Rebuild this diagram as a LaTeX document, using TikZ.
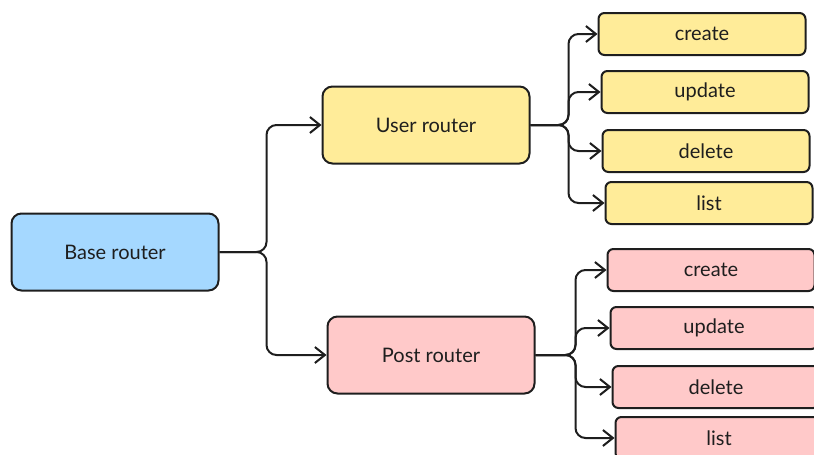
\documentclass[tikz,border=0pt]{standalone}
\usepackage{fontspec}
\setmainfont{Lato}
\usetikzlibrary{arrows.meta}

\definecolor{baseblue}{HTML}{A5D8FF}
\definecolor{useryellow}{HTML}{FFEC99}
\definecolor{postpink}{HTML}{FFC9C9}
\definecolor{inkline}{HTML}{1E1E1E}

\tikzset{
  box/.style={draw=inkline, line width=2pt, text=inkline,
    font=\fontsize{20}{24}\selectfont},
  bigbox/.style={box, rounded corners=10pt, minimum width=207pt, minimum height=77pt},
  smallbox/.style={box, rounded corners=6pt, minimum width=207pt, minimum height=42pt},
  link/.style={draw=inkline, line width=2pt, rounded corners=10pt,
    -{Straight Barb[length=10pt,width=16pt]}},
}

\begin{document}
\begin{tikzpicture}[x=1pt,y=-1pt]
\useasboundingbox (0,0) rectangle (814,455);

% routers
\node[bigbox, fill=baseblue] (base) at (115,252) {Base router};
\node[bigbox, fill=useryellow] (user) at (426,125) {User router};
\node[bigbox, fill=postpink] (post) at (431,355) {Post router};

% endpoints
\foreach \name/\txt/\px/\py in {ucreate/create/702/34, uupdate/update/705/92,
    udelete/delete/706/151, ulist/list/709/203}
  \node[smallbox, fill=useryellow] (\name) at (\px,\py) {\txt};
\foreach \name/\txt/\px/\py in {pcreate/create/711/270, pupdate/update/714/328,
    pdelete/delete/716/387, plist/list/719/438}
  \node[smallbox, fill=postpink] (\name) at (\px,\py) {\txt};

% links
\draw[link] (base.east) -- ++(47,0) |- (user.west);
\draw[link] (base.east) -- ++(47,0) |- (post.west);
\foreach \name in {ucreate,uupdate,udelete,ulist}
  \draw[link] (user.east) -- ++(38,0) |- (\name.west);
\foreach \name in {pcreate,pupdate,pdelete,plist}
  \draw[link] (post.east) -- ++(40,0) |- (\name.west);
\end{tikzpicture}
\end{document}
